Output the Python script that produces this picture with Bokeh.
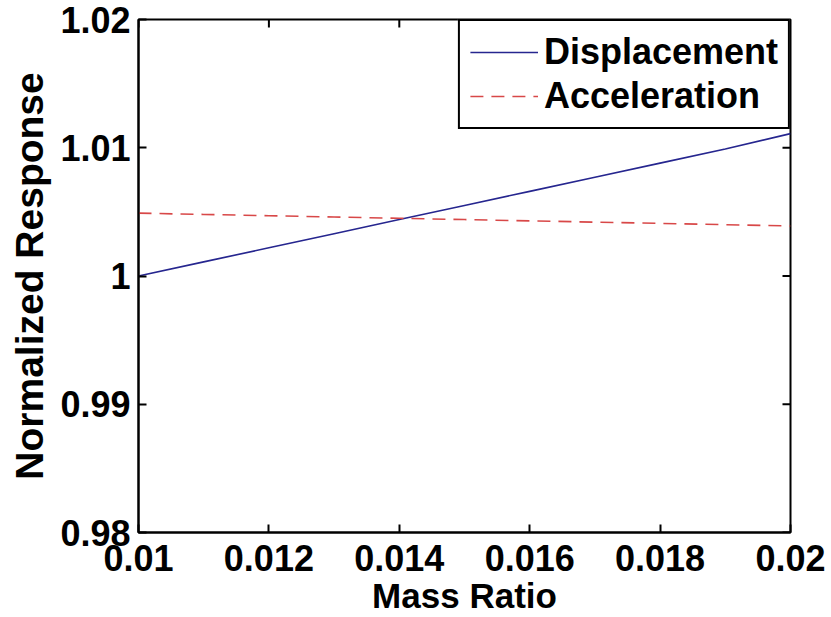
import math
from bokeh.plotting import figure
from bokeh.models import Range1d, FixedTicker, Legend, LegendItem
from bokeh.embed import file_html
from bokeh.resources import INLINE

mass_ratio = [0.010, 0.011, 0.012, 0.013, 0.014, 0.015, 0.016, 0.017, 0.018, 0.019, 0.020]
displacement = [1.0000, 1.0011, 1.0022, 1.0033, 1.0044, 1.0055, 1.0066, 1.0077, 1.0088, 1.0099, 1.0111]
acceleration = [1.0049, 1.0048, 1.0047, 1.0046, 1.0045, 1.0044, 1.0043, 1.0042, 1.0041, 1.0040, 1.0039]

x_ticks = [0.010, 0.012, 0.014, 0.016, 0.018, 0.020]
x_tick_labels = ["0.01", "0.012", "0.014", "0.016", "0.018", "0.02"]
y_ticks = [0.98, 0.99, 1.00, 1.01, 1.02]
y_tick_labels = ["0.98", "0.99", "1", "1.01", "1.02"]

X_MIN, X_MAX = 0.01, 0.02
Y_MIN, Y_MAX = 0.98, 1.02

FONT = "Liberation Sans"

p = figure(width=831, height=617, output_backend="svg", toolbar_location=None,
           x_range=Range1d(X_MIN, X_MAX), y_range=Range1d(Y_MIN, Y_MAX),
           min_border_left=138, min_border_right=41, min_border_top=19, min_border_bottom=85)
p.frame_width = 652
p.frame_height = 513
p.grid.visible = False
p.outline_line_color = "black"
p.outline_line_width = 2
p.background_fill_color = "white"
p.border_fill_color = "white"

for ax, ticks, labels in ((p.xaxis[0], x_ticks, x_tick_labels), (p.yaxis[0], y_ticks, y_tick_labels)):
    ax.ticker = FixedTicker(ticks=ticks)
    ax.major_label_overrides = {t: l for t, l in zip(ticks, labels)}
    ax.major_tick_in = 8
    ax.major_tick_out = 0
    ax.minor_tick_in = 0
    ax.minor_tick_out = 0
    ax.major_tick_line_width = 2
    ax.axis_line_width = 2
    ax.major_label_text_font = FONT
    ax.major_label_text_font_style = "bold"
    ax.major_label_text_font_size = "36px"
    ax.major_label_text_color = "black"
    ax.axis_label_text_font = FONT
    ax.axis_label_text_font_style = "bold"
    ax.axis_label_text_color = "black"

p.xaxis.axis_label = "Mass Ratio"
p.yaxis.axis_label = "Normalized Response"
p.xaxis.axis_label_text_font_size = "35px"
p.yaxis.axis_label_text_font_size = "39px"
p.xaxis.major_label_standoff = 12
p.yaxis.major_label_standoff = 8
p.xaxis.axis_label_standoff = 2
p.yaxis.axis_label_standoff = 6

# mirrored ticks on top and right edges (MATLAB box style), clipped to the frame
p.scatter(x_ticks, [Y_MAX] * len(x_ticks), marker="dash", size=16, angle=math.pi / 2,
          line_color="black", line_width=2)
p.scatter([X_MAX] * len(y_ticks), y_ticks, marker="dash", size=16,
          line_color="black", line_width=2)

r1 = p.line(mass_ratio, displacement, line_color="#26268f", line_width=1.6)
r2 = p.line(mass_ratio, acceleration, line_color="#d84848", line_width=1.6, line_dash="13 8")

legend = Legend(items=[LegendItem(label="Displacement", renderers=[r1]),
                       LegendItem(label="Acceleration", renderers=[r2])],
                location="top_right", margin=0, padding=10, spacing=2,
                border_line_color="black", border_line_width=2, border_line_alpha=1.0,
                label_text_font=FONT, label_text_font_style="bold",
                label_text_font_size="36px", label_text_color="black",
                glyph_width=68, glyph_height=42, label_standoff=6,
                background_fill_alpha=1.0)
p.add_layout(legend)

open("out.html", "w").write(file_html(p, INLINE))
